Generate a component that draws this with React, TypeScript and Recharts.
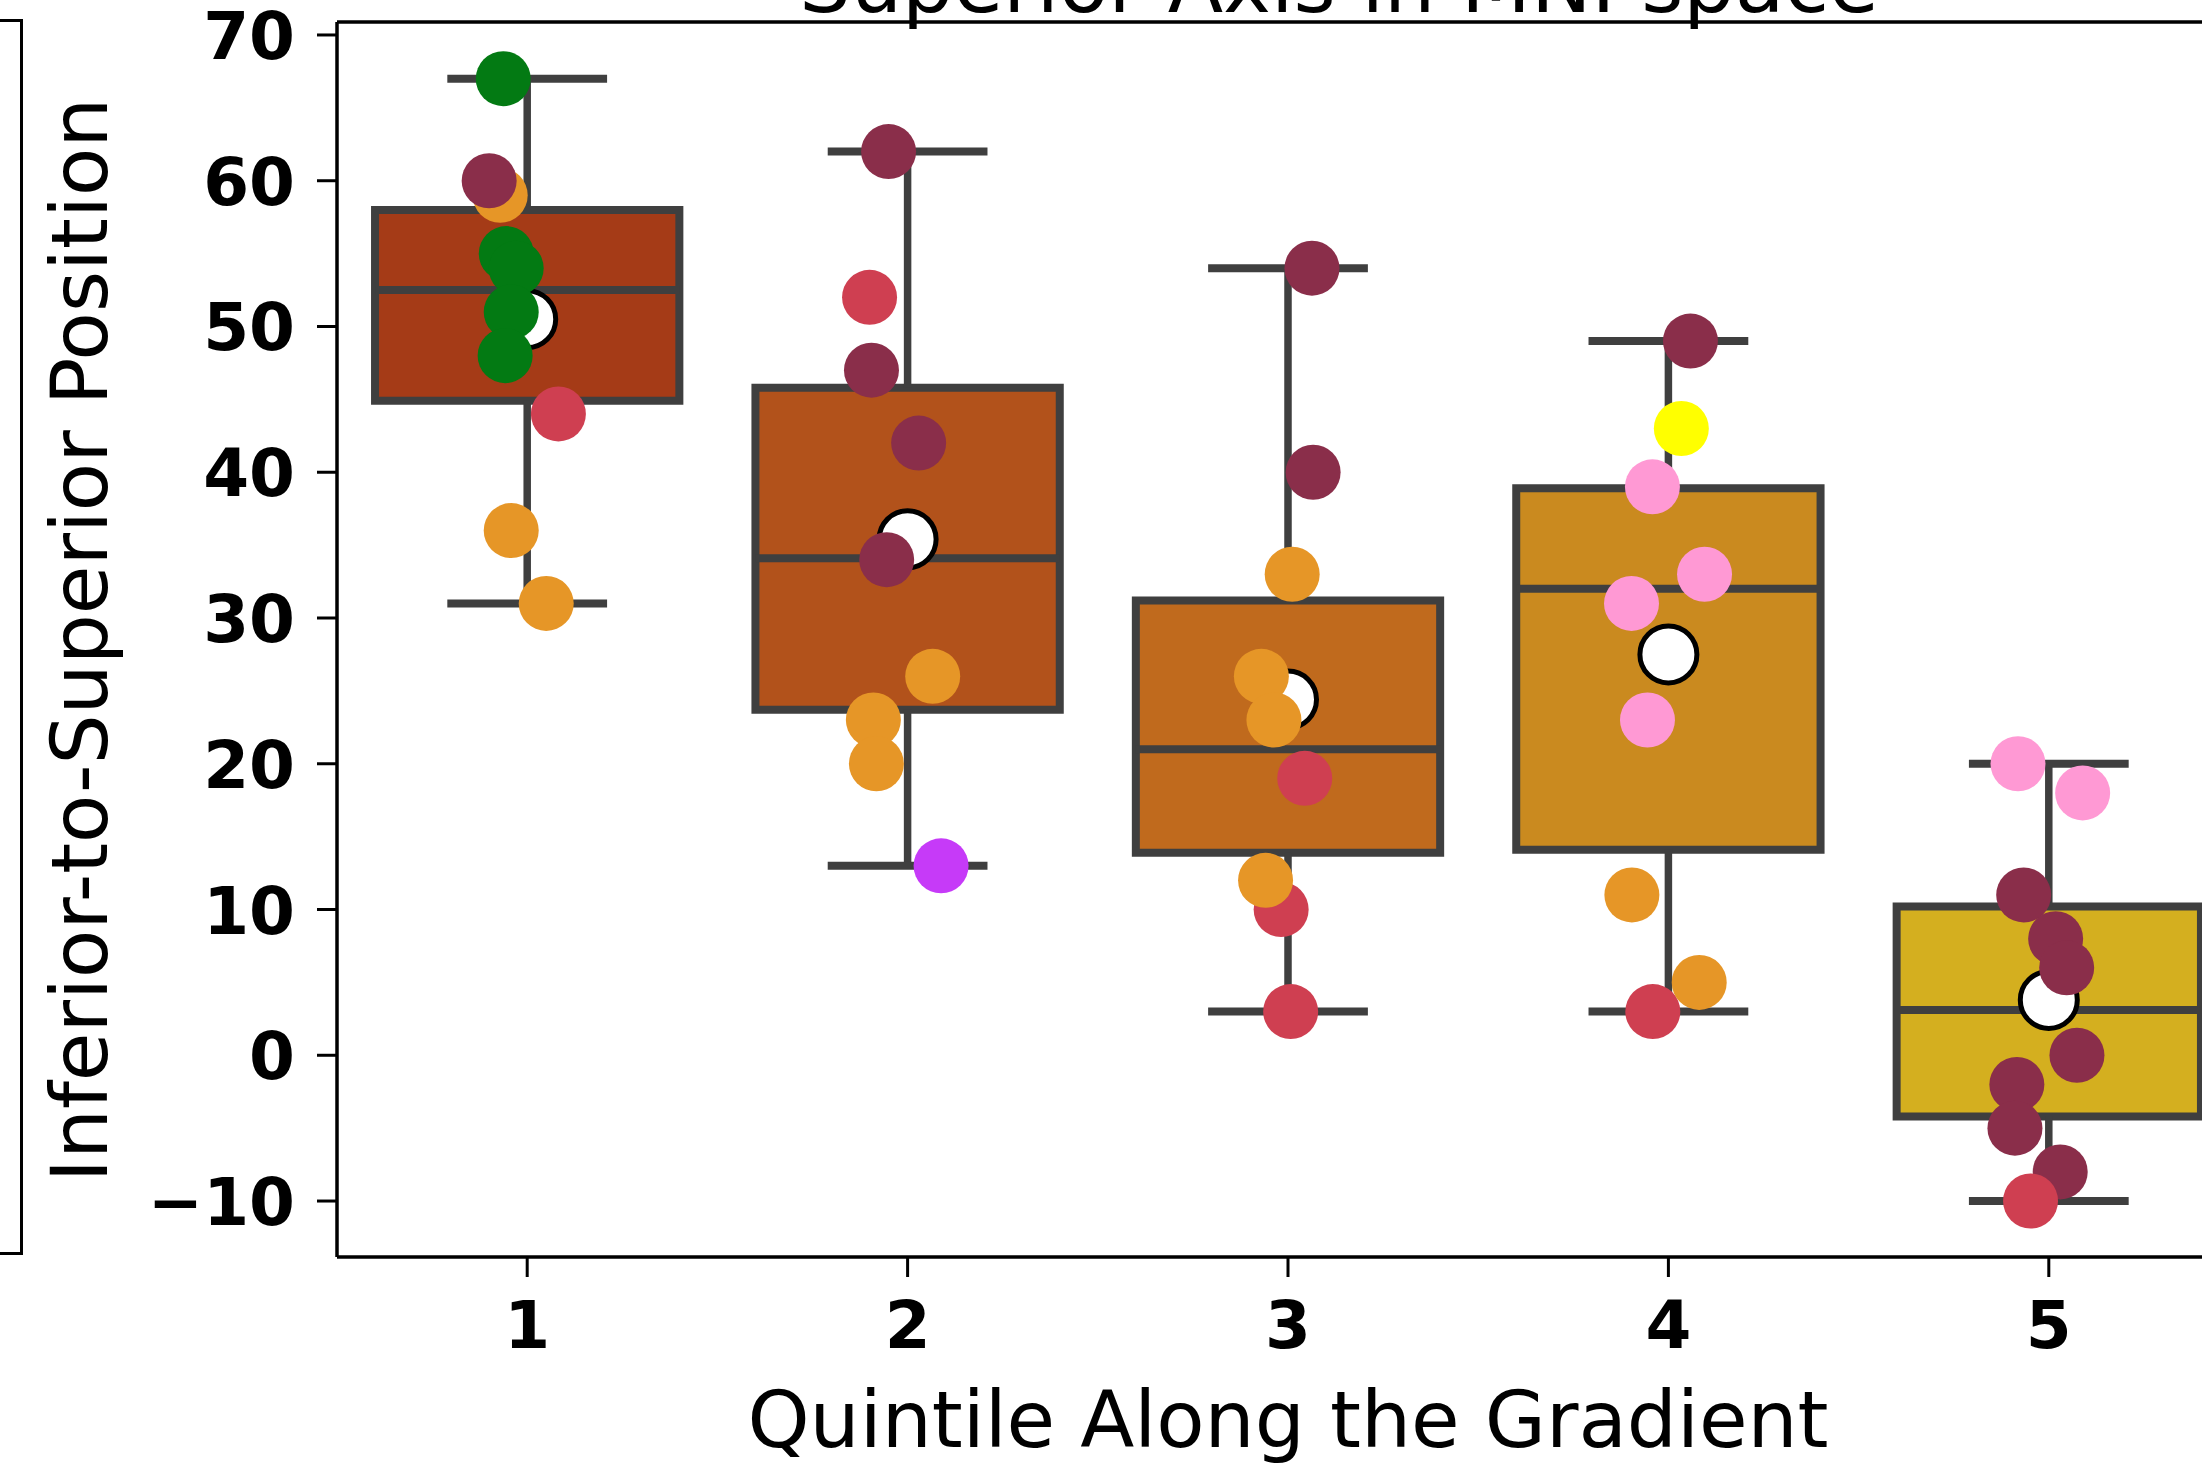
import React from "react";
import {
  ComposedChart,
  XAxis,
  YAxis,
  Scatter,
  ReferenceArea,
  ReferenceLine,
} from "recharts";

// quintiles along the gradient
const QUINTILES = [1, 2, 3, 4, 5];

// box plot stats
const WHISKER_LOW = [31, 13, 3, 3, -10];
const Q1 = [44.9, 23.7, 13.9, 14.1, -4.2];
const MEDIAN = [52.5, 34.1, 21.0, 32.0, 3.1];
const Q3 = [58.0, 45.8, 31.2, 38.9, 10.2];
const WHISKER_HIGH = [67, 62, 54, 49, 20];
const MEANS = [50.5, 35.4, 24.4, 27.5, 3.8];

// strip points per quintile: value, horizontal jitter (category units), hue group
const VALUES = [
  [67, 59, 60, 55, 54, 51, 48, 44, 36, 31],
  [62, 52, 47, 42, 34, 26, 23, 20, 13],
  [54, 40, 33, 26, 23, 19, 10, 12, 3],
  [49, 43, 39, 33, 31, 23, 11, 3, 5],
  [20, 18, 11, 8, 6, 0, -2, -5, -8, -10],
];
const JITTER = [
  [-0.063, -0.071, -0.1, -0.055, -0.029, -0.042, -0.058, 0.082, -0.042, 0.05],
  [-0.05, -0.1, -0.095, 0.029, -0.055, 0.066, -0.09, -0.082, 0.088],
  [0.063, 0.066, 0.011, -0.07, -0.037, 0.044, -0.018, -0.059, 0.007],
  [0.058, 0.034, -0.042, 0.095, -0.097, -0.055, -0.096, -0.041, 0.081],
  [-0.081, 0.089, -0.066, 0.018, 0.047, 0.074, -0.084, -0.089, 0.03, -0.048],
];
const HUE = [
  ["g", "o", "m", "g", "g", "g", "g", "r", "o", "o"],
  ["m", "r", "m", "m", "m", "o", "o", "o", "v"],
  ["m", "m", "o", "o", "o", "r", "r", "o", "r"],
  ["m", "y", "p", "p", "p", "p", "o", "r", "o"],
  ["p", "p", "m", "m", "m", "m", "m", "m", "m", "r"],
];

const HUE_COLORS: Record<string, string> = {
  g: "#037a13",
  m: "#8a2e4a",
  o: "#e69627",
  r: "#cf3f51",
  v: "#c63af8",
  y: "#ffff00",
  p: "#ff99d4",
};
const BOX_COLORS = ["#a53b17", "#b2521b", "#c06a1d", "#ca8a1f", "#d4af1f"];
const EDGE = "#3f3f3f";

const Y_MIN = -13.84;
const Y_MAX = 70.89;
const FONT = "'DejaVu Sans', sans-serif";

const points: { x: number; y: number; hue: string }[] = [];
QUINTILES.forEach((q, i) => {
  VALUES[i].forEach((v, j) => {
    points.push({ x: q + JITTER[i][j], y: v, hue: HUE[i][j] });
  });
});
const meanPoints = QUINTILES.map((q, i) => ({ x: q, y: MEANS[i] }));

const fmt = (v: number) => (v < 0 ? "\u2212" + Math.abs(v) : String(v));

const XTick = (props: any) => {
  const { x, y, payload } = props;
  return (
    <text x={x} y={y + 69} textAnchor="middle" fontFamily={FONT} fontWeight="bold" fontSize={66} fill="#000">
      {payload.value}
    </text>
  );
};

const YTick = (props: any) => {
  const { x, y, payload } = props;
  return (
    <text x={x - 20} y={y} dy={24} textAnchor="end" fontFamily={FONT} fontWeight="bold" fontSize={66} fill="#000">
      {fmt(payload.value)}
    </text>
  );
};

export default function App() {
  return (
    <div
      style={{
        position: "absolute",
        left: 0,
        top: 0,
        width: 2202,
        height: 1463,
        overflow: "hidden",
        background: "#fff",
      }}
    >
      {/* edge of the neighbouring panel */}
      <div
        style={{
          position: "absolute",
          left: -10,
          top: 19,
          width: 27,
          height: 1230,
          border: "3.5px solid #000",
        }}
      />
      <svg width={2202} height={60} style={{ position: "absolute", left: 0, top: 0 }}>
        <text x={1339} y={12} textAnchor="middle" fontFamily={FONT} fontSize={81} fill="#000">
          Superior Axis in MNI space
        </text>
      </svg>
      <div style={{ position: "absolute", left: 0, top: 0 }}>
        <ComposedChart
          width={2400}
          height={1463}
          margin={{ top: 22, right: 161, bottom: 0, left: 0 }}
        >
          <XAxis
            type="number"
            dataKey="x"
            domain={[0.5, 5.5]}
            ticks={QUINTILES}
            allowDataOverflow
            height={206}
            tickSize={20}
            axisLine={{ stroke: "#000", strokeWidth: 3.5 }}
            tickLine={{ stroke: "#000", strokeWidth: 3 }}
            tick={<XTick />}
            label={() => (
              <text x={1288} y={1447} textAnchor="middle" fontFamily={FONT} fontSize={79} fill="#000">
                Quintile Along the Gradient
              </text>
            )}
          />
          <YAxis
            type="number"
            dataKey="y"
            domain={[Y_MIN, Y_MAX]}
            ticks={[-10, 0, 10, 20, 30, 40, 50, 60, 70]}
            allowDataOverflow
            width={337}
            tickSize={20}
            axisLine={{ stroke: "#000", strokeWidth: 3.5 }}
            tickLine={{ stroke: "#000", strokeWidth: 3 }}
            tick={<YTick />}
            label={() => (
              <text
                x={107}
                y={640}
                transform="rotate(-90, 107, 640)"
                textAnchor="middle"
                fontFamily={FONT}
                fontSize={79}
                fill="#000"
              >
                Inferior-to-Superior Position
              </text>
            )}
          />
          <ReferenceLine y={Y_MAX} stroke="#000" strokeWidth={3.5} ifOverflow="visible" />

          {QUINTILES.map((q, i) => (
            <ReferenceLine
              key={"wl" + q}
              segment={[{ x: q, y: WHISKER_LOW[i] }, { x: q, y: Q1[i] }]}
              stroke={EDGE}
              strokeWidth={7.5}
            />
          ))}
          {QUINTILES.map((q, i) => (
            <ReferenceLine
              key={"wh" + q}
              segment={[{ x: q, y: Q3[i] }, { x: q, y: WHISKER_HIGH[i] }]}
              stroke={EDGE}
              strokeWidth={7.5}
            />
          ))}
          {QUINTILES.map((q, i) => (
            <ReferenceLine
              key={"cl" + q}
              segment={[{ x: q - 0.21, y: WHISKER_LOW[i] }, { x: q + 0.21, y: WHISKER_LOW[i] }]}
              stroke={EDGE}
              strokeWidth={8}
            />
          ))}
          {QUINTILES.map((q, i) => (
            <ReferenceLine
              key={"ch" + q}
              segment={[{ x: q - 0.21, y: WHISKER_HIGH[i] }, { x: q + 0.21, y: WHISKER_HIGH[i] }]}
              stroke={EDGE}
              strokeWidth={8}
            />
          ))}
          {QUINTILES.map((q, i) => (
            <ReferenceArea
              key={"box" + q}
              x1={q - 0.4}
              x2={q + 0.4}
              y1={Q1[i]}
              y2={Q3[i]}
              fill={BOX_COLORS[i]}
              fillOpacity={1}
              stroke={EDGE}
              strokeWidth={8}
            />
          ))}
          {QUINTILES.map((q, i) => (
            <ReferenceLine
              key={"med" + q}
              segment={[{ x: q - 0.4, y: MEDIAN[i] }, { x: q + 0.4, y: MEDIAN[i] }]}
              stroke={EDGE}
              strokeWidth={8}
            />
          ))}

          <Scatter
            data={meanPoints}
            isAnimationActive={false}
            shape={(p: any) => (
              <circle cx={p.cx} cy={p.cy} r={28.5} fill="#fff" stroke="#000" strokeWidth={5} />
            )}
          />
          <Scatter
            data={points}
            isAnimationActive={false}
            shape={(p: any) => (
              <circle cx={p.cx} cy={p.cy} r={27.5} fill={HUE_COLORS[p.payload.hue]} />
            )}
          />
        </ComposedChart>
      </div>
    </div>
  );
}
